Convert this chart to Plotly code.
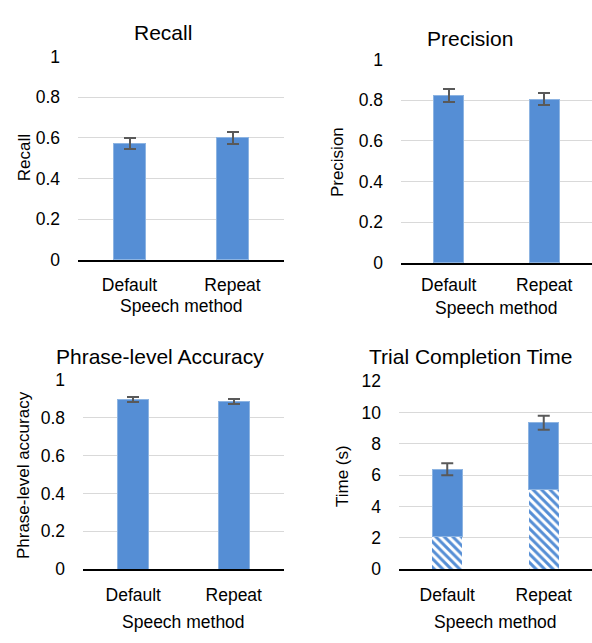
import plotly.graph_objects as go

methods = ["Default", "Repeat"]
recall = [0.572, 0.600]
recall_err = [0.028, 0.029]
precision = [0.824, 0.805]
precision_err = [0.033, 0.029]
phrase_acc = [0.897, 0.887]
phrase_err = [0.011, 0.011]
time_total = [6.37, 9.34]
time_hatched = [2.1, 5.1]
time_err = [0.38, 0.44]
ticks_unit = [0, 0.2, 0.4, 0.6, 0.8, 1]
tick_unit_text = ["0", "0.2", "0.4", "0.6", "0.8", "1"]
ticks_time = [0, 2, 4, 6, 8, 10, 12]

W, H = 592, 643
FONT = "Liberation Sans, Arial, sans-serif"
FS = 17.5
TS = 21
BLUE = "#558ED5"
EDGE = "#8DB4E2"
ERR = "#595959"
GRID = "#D9D9D9"

def px_x(a, b):
    return [a / W, b / W]

def px_y(top, bottom):
    return [1 - bottom / H, 1 - top / H]

panels = [
    dict(x=px_x(78, 284), y=px_y(48, 258), xs=8),
    dict(x=px_x(401, 592), y=px_y(51, 261), xs=5),
    dict(x=px_x(83, 284), y=px_y(382, 577), xs=9),
    dict(x=px_x(399, 592), y=px_y(383, 577), xs=9),
]

fig = go.Figure()

def err(vals):
    return dict(type="data", array=vals, visible=True, color=ERR, thickness=2, width=6)

bar_w = 0.31
fig.add_trace(go.Bar(x=methods, y=recall, error_y=err(recall_err), width=bar_w,
                     marker=dict(color=BLUE, line=dict(color=EDGE, width=1)),
                     xaxis="x", yaxis="y", showlegend=False))
fig.add_trace(go.Bar(x=methods, y=precision, error_y=err(precision_err), width=bar_w,
                     marker=dict(color=BLUE, line=dict(color=EDGE, width=1)),
                     xaxis="x2", yaxis="y2", showlegend=False))
fig.add_trace(go.Bar(x=methods, y=phrase_acc, error_y=err(phrase_err), width=bar_w,
                     marker=dict(color=BLUE, line=dict(color=EDGE, width=1)),
                     xaxis="x3", yaxis="y3", showlegend=False))
fig.add_trace(go.Bar(x=methods, y=time_hatched, width=bar_w,
                     marker=dict(color="white", line=dict(color=EDGE, width=0),
                                 pattern=dict(shape="\\", fgcolor=BLUE, bgcolor="white",
                                              size=6, solidity=0.5, fillmode="replace")),
                     xaxis="x4", yaxis="y4", showlegend=False))
fig.add_trace(go.Bar(x=methods, y=[t - h for t, h in zip(time_total, time_hatched)],
                     width=bar_w,
                     marker=dict(color=BLUE, line=dict(color=EDGE, width=1)),
                     xaxis="x4", yaxis="y4", showlegend=False))
fig.add_trace(go.Scatter(x=methods, y=time_total, mode="markers",
                         marker=dict(opacity=0, size=1), error_y=err(time_err),
                         xaxis="x4", yaxis="y4", showlegend=False, hoverinfo="skip"))

layout = dict(
    width=W, height=H, margin=dict(l=0, r=0, t=0, b=0),
    paper_bgcolor="white", plot_bgcolor="white",
    barmode="stack",
    font=dict(family=FONT, size=FS, color="#000"),
)
for i, p in enumerate(panels):
    s = "" if i == 0 else str(i + 1)
    layout["xaxis" + s] = dict(domain=p["x"], anchor="y" + s, range=[-0.5, 1.5],
                               showline=True, linecolor="#000", linewidth=2,
                               showgrid=False, zeroline=False, ticks="",
                               ticklabelstandoff=p["xs"],
                               tickfont=dict(family=FONT, size=FS, color="#000"))
    if i == 3:
        yax = dict(range=[0, 12], tickvals=ticks_time)
    else:
        yax = dict(range=[0, 1], tickvals=ticks_unit, ticktext=tick_unit_text)
    yax.update(domain=p["y"], anchor="x" + s, showgrid=True, gridcolor=GRID,
               gridwidth=1, zeroline=False, showline=False, ticks="",
               ticklabelstandoff=17,
               tickfont=dict(family=FONT, size=FS, color="#000"))
    layout["yaxis" + s] = yax

fig.update_layout(**layout)

def ann(text, x, y, size=FS, angle=0):
    fig.add_annotation(text=text, x=x / W, y=1 - y / H, xref="paper", yref="paper",
                       showarrow=False, xanchor="center", yanchor="middle",
                       textangle=angle, font=dict(family=FONT, size=size, color="#000"))

# titles
ann("Recall", 163, 23, size=TS)
ann("Precision", 470, 29, size=TS)
ann("Phrase-level Accuracy", 160, 358, size=TS)
ann("Trial Completion Time", 470, 358, size=TS)
# x axis titles
ann("Speech method", 181, 306)
ann("Speech method", 496, 308)
ann("Speech method", 183, 632)
ann("Speech method", 495, 632)
# y axis titles
ann("Recall", 24, 153, size=17, angle=-90)
ann("Precision", 337, 157, size=17, angle=-90)
ann("Phrase-level accuracy", 23, 480, size=17, angle=-90)
ann("Time (s)", 342, 481, size=17, angle=-90)

fig.write_html("out.html")
